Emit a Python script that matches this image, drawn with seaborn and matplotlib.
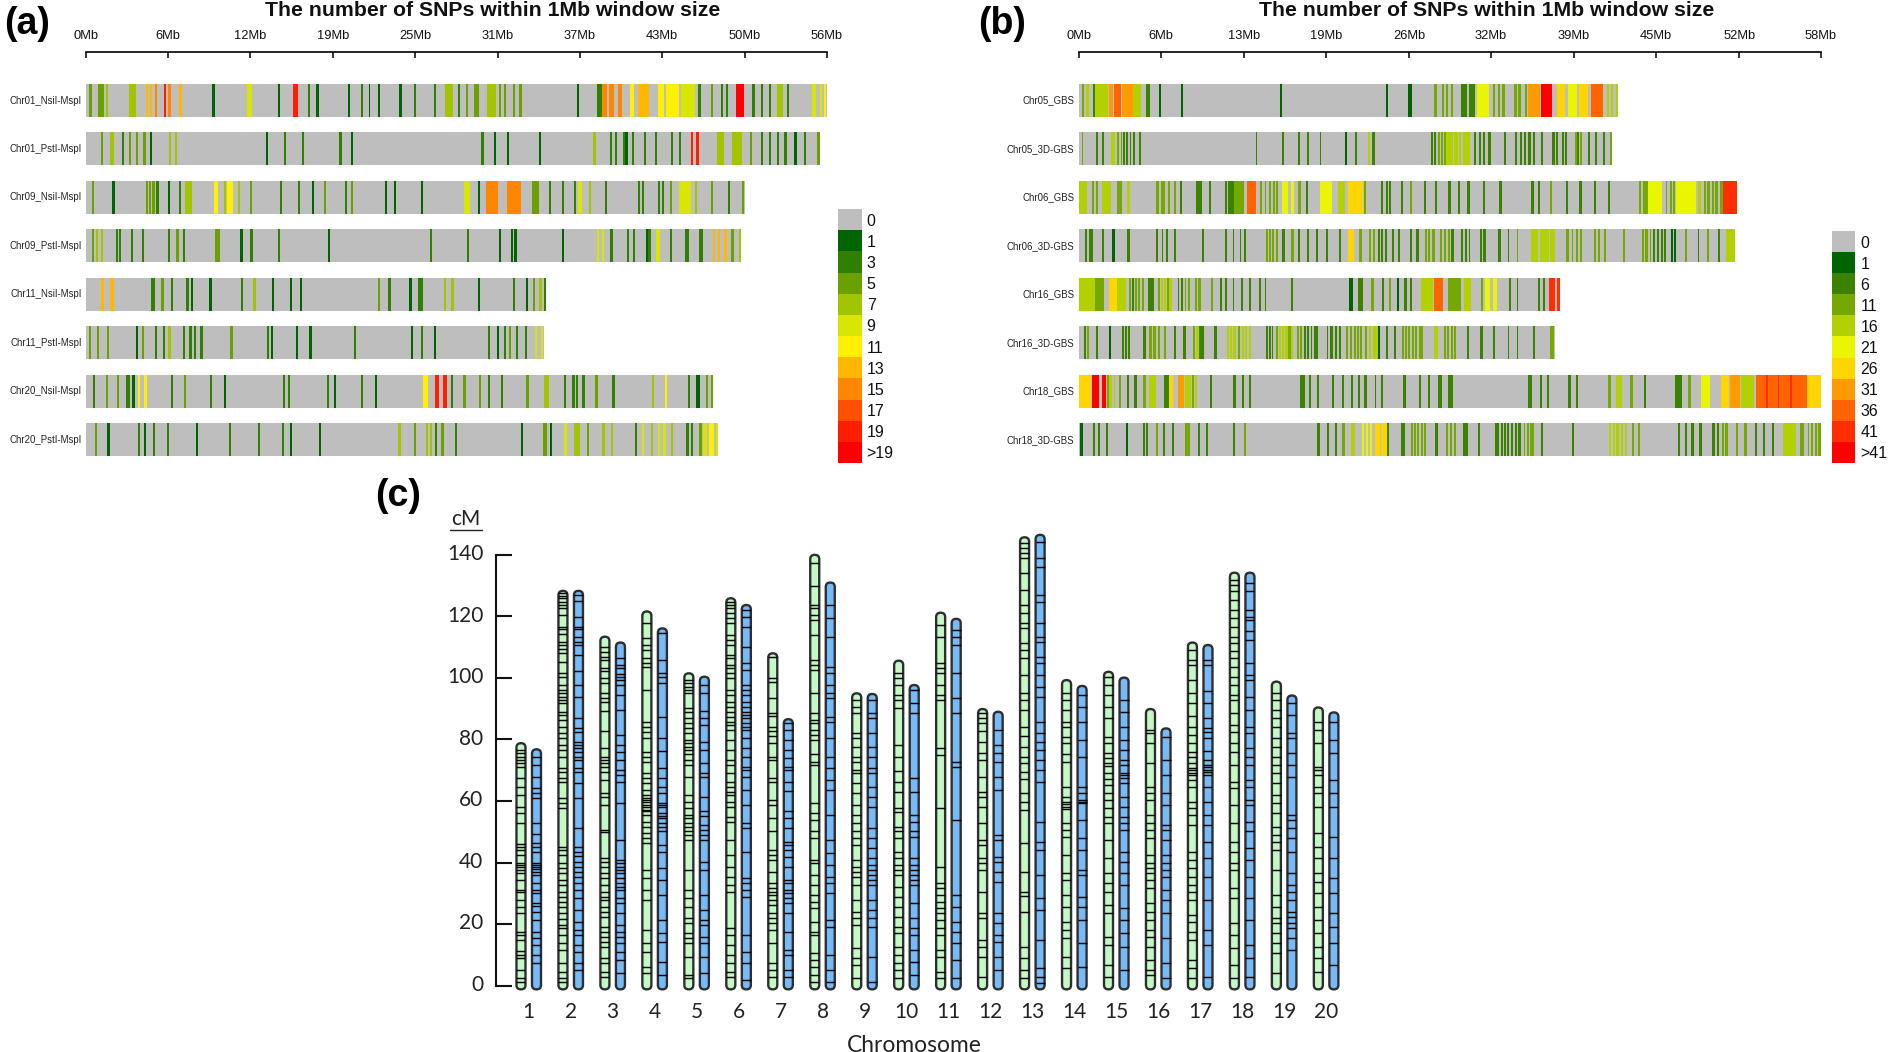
import numpy as np
import pandas as pd
import matplotlib
matplotlib.use("Agg")
import matplotlib.pyplot as plt
from matplotlib.colors import ListedColormap
from matplotlib.lines import Line2D
from matplotlib.patches import FancyBboxPatch
from matplotlib.transforms import ScaledTranslation
import seaborn as sns

W, H = 1889, 1052

# panel a: (Mb, level) for a thin stripe, (start Mb, end Mb, level) for a wide one
chr01_nsil = [(.3,3),(.95,3),(1.2,3),(1.5,4),(3.3,3.8,4),(4.5,4.7,7),(4.85,5,7),(5.2,8),(5.9,10),(6.2,6.45,8),(7.1,7),(9.6,1),(12.2,12.55,5),(14.5,1),(15.7,16.05,10),(16.8,2),(17.45,1),(19.8,1),(20.8,2),(21.35,1),(22.1,1),(23.7,1),(24.8,2),(26.3,2),(27.1,27.7,4),(28.1,2),(28.7,3),(29.4,29.7,3),(30.3,31,4),(31.2,3),(31.6,3),(32.3,3),(32.8,3),(37.1,1),(38.65,39,2),(39.05,39.4,8),(39.5,39.9,8),(40.2,40.5,8),(41.1,41.4,6),(41.8,42.55,7),(43.2,43.7,6),(43.85,44.8,6),(45,46,5),(46.3,2),(47.2,3),(48,2),(48.4,2),(49.1,49.7,11),(50.4,2),(51,2),(51.6,2),(52.2,52.7,4),(53,2),(54.9,55.15,5),(55.5,5),(55.75,6)]
chr01_pstl = [(1.15,3),(1.8,2.1,4),(2.7,2),(3.25,3),(3.8,3),(4.35,3),(4.85,1),(6.3,4),(6.7,4),(13.6,1),(15,2),(16.3,2),(19.2,2),(20,1),(29.9,2),(30.8,1),(31.8,1),(34.2,1),(38.4,4),(39.6,2),(40,2),(40.6,2),(40.8,1),(41.25,2),(42.2,2),(43,2),(44.2,2),(44.85,2),(45.7,10),(46.15,10),(47.7,48.2,4),(48.9,49.6,4),(50.2,3),(51,2),(51.6,2),(52.2,2),(52.8,2),(53.55,1),(54.3,2),(55.3,3)]
chr09_nsil = [(.45,3),(2.05,1),(4.55,3),(4.75,3),(5.05,3),(5.35,2),(6.2,1),(7,2),(7.5,8,4),(9.65,9.95,6),(10.4,4),(10.7,11.1,6),(11.5,4),(12.4,3),(14.7,2),(16,2),(17.1,1),(18,3),(19.6,2),(20,3),(22.6,1),(23.3,1),(25.3,1),(28.55,29,5),(29.65,1),(30.2,31.1,8),(31.8,32.9,8),(33.7,34.2,3),(35,2),(36,2),(36.9,2),(37.2,37.5,5),(38,4),(39.2,2),(41.7,2),(42,2),(43.2,2),(43.5,2),(44.15,3),(44.9,45.7,5),(46,4),(47.2,3),(48.5,2),(49.6,3)]
chr09_pstl = [(.45,3),(.75,4),(1.1,4),(2.3,2),(2.5,2),(3.4,2),(4.25,2),(6.2,2),(6.85,3),(7.35,2),(9.75,10.1,3),(11.7,1),(12.45,2),(14.5,2),(18.3,1),(26,2),(28.8,2),(31.2,1),(32.1,1),(32.4,1),(36,1),(38.6,5),(39,5),(39.65,2),(40.9,2),(41.35,2),(42.35,1),(42.55,2),(43.1,43.4,5),(44.15,2),(45.3,45.6,2),(46.4,46.6,2),(47.4,7),(47.8,7),(48.3,7),(48.8,3),(49.35,4)]
chr11_nsil = [(1.2,7),(1.8,2.1,7),(4.9,2),(5.1,2),(5.65,5.9,3),(6.4,2),(7.6,2),(7.9,1),(9.35,1),(11.75,2),(12.7,4),(14.05,1),(15.45,1),(16.2,1),(22.1,3),(22.9,2),(24.45,1),(25.1,25.45,2),(27.05,4),(27.65,4),(29.6,1),(32.3,2),(33.25,1),(33.75,3),(34.2,34.45,4),(34.6,2)]
chr11_pstl = [(.2,3),(.85,3),(1.6,3),(3.8,1),(4.2,4.4,3),(5.2,2),(5.85,2),(6.2,6.4,4),(7.35,2),(7.85,2),(8.2,2),(8.7,2),(10.95,3),(13.7,2),(14,1),(15.85,1),(16.9,1),(20.25,2),(24.55,1),(25.3,2),(26.3,1),(30.35,2),(31.05,1),(31.6,2),(32,3),(32.5,2),(33.2,2),(33.95,5),(34.35,34.55,5)]
chr20_nsil = [(.5,.7,2),(1.5,3),(2.35,3),(3.05,3.35,2),(3.55,1),(3.95,6),(4.4,4.6,6),(6.4,2),(7.4,3),(9.4,2),(10.45,1),(14.9,2),(15.3,15.45,2),(18.25,2),(18.75,1),(20.8,2),(21.85,1),(25.5,25.85,6),(26.4,26.65,10),(27,27.25,10),(27.55,2),(28.5,28.7,3),(29.7,3),(30.35,2),(31.4,2),(33.3,3),(34.6,35,4),(36.15,2),(36.8,2),(37.05,2),(37.55,2),(38.45,38.7,3),(39.8,2),(42.75,4),(43.75,6),(45.5,2),(46.15,46.4,1),(46.85,3),(47.2,3)]
chr20_pstl = [(.65,3),(1.65,1),(3.95,2),(4.4,1),(5.1,2),(6.15,2),(8.3,1),(10.8,2),(13,2),(14.8,2),(15.4,1),(17.6,1),(23.65,4),(24.8,3),(25.7,4),(26,4),(26.35,2),(26.9,3),(27.9,2),(32.9,1),(34.55,34.85,3),(35.1,1),(36.1,36.35,5),(36.85,37.3,4),(37.9,3),(39.05,4),(39.7,4),(41.5,2),(42.05,5),(42.7,4),(43.2,5),(43.65,43.8,5),(44.2,4),(45.4,2),(45.7,2),(46.4,3),(46.65,46.95,5),(47.1,47.45,6),(47.6,5)]

# panel b
chr05_gbs = [(.2,.4,3),(.6,4),(1.1,2),(1.25,2.3,4),(2.35,2.65,7),(2.75,3.3,8),(3.35,4.2,7),(4.25,4.85,4),(5.3,5.55,2),(6.25,1),(8,1),(15.75,1),(24,1),(25.7,1),(25.85,1),(27.75,28,3),(28.35,3),(28.7,3),(29.1,3),(29.85,30.3,2),(30.5,30.95,2),(31.1,32.05,5),(32.35,3),(32.75,3),(33.15,3),(34.05,3),(34.4,3),(34.85,3),(35.15,36,7),(36.1,36.55,10),(36.6,37,10),(37.35,38,6),(38.25,38.95,5),(39.1,39.8,6),(40,40.95,8),(41.25,4),(41.6,4),(42,4)]
chr05_3d = [(.2,3),(1.35,2),(1.8,2),(2.5,2.8,4),(3,3),(3.25,3),(3.45,2),(3.7,2),(3.95,2),(4.2,2),(4.7,2),(13.8,2),(15.85,2),(17.15,2),(17.8,2),(18.8,2),(20.8,1),(21.6,2),(22.6,4),(22.95,2),(27.5,2),(27.75,2),(28.1,3),(28.3,3),(28.5,3),(28.7,4),(28.9,4),(29.1,4),(29.3,4),(29.5,4),(29.7,4),(30,30.6,4),(30.85,2),(31.25,2),(31.55,2),(32.05,2),(33.2,2),(34.1,2),(34.5,2),(34.8,2),(35.15,2),(35.5,2),(36.15,2),(37.05,2),(37.3,2),(37.75,2),(38,2),(38.75,3),(38.95,2),(39.2,3),(39.8,2),(40.35,2),(40.95,2),(41.5,3)]
chr06_gbs = [(0,.65,4),(1,3),(1.35,3),(1.8,2.5,4),(3,3.35,3),(3.8,4),(6.1,3),(6.4,3),(6.6,3),(6.95,3),(7.4,3),(7.9,2),(9.2,9.6,2),(10.15,2),(11.45,2),(11.7,2),(11.95,2),(12.15,12.9,3),(13.1,13.85,8),(14.15,3),(14.5,3),(14.85,3),(15.2,3),(15.4,3),(15.95,16.3,5),(16.65,5),(17.2,3),(17.75,2),(18.85,19.8,5),(20.25,20.8,4),(21,22.2,6),(22.3,3),(23.65,2),(24,2),(24.25,2),(25.2,2),(25.9,3),(27,2),(27.85,2),(28.9,2),(29.6,2),(30.4,2),(31.6,2),(32.9,2),(35.4,2),(35.85,2),(36.85,3),(38.1,2),(39.15,2),(40.3,2),(41.35,2),(43.8,3),(44.15,3),(44.4,3),(44.5,45.55,5),(45.85,3),(46.2,3),(46.45,3),(46.7,48.2,5),(48.35,48.65,4),(48.85,3),(49.15,3),(49.5,3),(49.8,3),(50.1,3),(50.3,3),(50.4,51.4,9)]
chr06_3d = [(.5,2),(.8,2),(.95,2),(1.8,2),(2.65,1),(3.8,2),(6.05,2),(6.45,2),(6.8,2),(7.45,2),(9.65,2),(11.4,2),(12,2),(12.55,2),(12.9,2),(14.6,3),(14.85,3),(15.1,3),(15.4,3),(15.95,2),(16.65,3),(17.1,2),(17.8,2),(18.5,2),(19.3,2),(20.35,2),(21,21.5,6),(21.95,3),(22.7,3),(23,3),(23.4,2),(23.65,2),(23.95,2),(24.5,2),(24.95,2),(25.9,2),(26.4,2),(27.05,3),(27.3,3),(27.65,3),(28.25,3),(28.55,3),(28.85,3),(29.15,2),(29.9,2),(30.2,2),(30.45,2),(31.35,2),(31.65,2),(32.8,2),(33.5,2),(34.2,3),(35.4,35.9,4),(36.05,36.7,4),(36.85,37.2,4),(38.15,3),(38.5,3),(38.85,3),(39.2,3),(40.3,3),(40.6,3),(41.05,3),(42.55,3),(44,3),(44.3,3),(44.6,3),(44.9,2),(45.2,2),(45.5,2),(45.75,2),(46.3,1),(46.5,1),(47.4,3),(48.35,2),(49.1,3),(49.95,2),(50.65,51.25,4)]
chr16_gbs = [(0,1.25,4),(1.25,1.95,3),(2.4,2.95,6),(3,3.65,4),(3.9,3),(4.15,2),(4.4,3),(4.65,3),(4.9,3),(5.4,5.9,2),(6.15,3),(6.4,4),(6.65,4),(6.9,3),(7.1,4),(7.7,2),(8,2),(8.25,3),(8.5,3),(9.05,3),(9.35,3),(10.3,3),(11.05,2),(11.4,2),(12,2),(12.7,2),(13.3,2),(14.05,2),(14.5,2),(16.55,2),(21.15,21.45,1),(21.8,22.2,2),(22.9,3),(23.7,2),(24.25,3),(24.85,1),(25.45,2),(25.9,2),(26.7,27.65,4),(27.75,28.45,8),(28.9,29.85,3),(30.15,30.65,4),(31.45,3),(31.75,32.1,5),(32.35,32.65,5),(33.65,2),(34.2,2),(35.85,2),(36.3,2),(36.8,37.2,9),(37.35,37.6,9)]
chr16_3d = [(.4,2),(.65,3),(1.35,2),(2.35,1),(3.35,2),(3.6,2),(3.85,2),(5.05,2),(5.55,3),(5.85,3),(6.15,3),(6.65,3),(7.45,2),(8.2,2),(8.9,3),(9.2,4),(9.4,2),(9.6,9.8,2),(10.6,2),(11.55,4),(11.8,4),(12.1,4),(12.4,3),(12.75,4),(13,4),(13.3,4),(14.6,2),(14.85,2),(15.05,2),(15.4,3),(15.65,4),(15.9,4),(16.15,4),(16.4,3),(16.6,4),(17.05,3),(17.25,3),(17.6,2),(17.85,2),(18.1,2),(18.35,2),(18.55,2),(19.35,2),(19.7,2),(20,2),(20.3,2),(20.85,3),(21.2,3),(21.5,3),(21.75,3),(22,3),(22.35,3),(22.7,4),(23,4),(23.2,4),(23.35,1),(24,2),(24.6,2),(25.25,3),(25.5,3),(25.75,3),(26,3),(26.3,3),(26.55,3),(26.75,3),(27.75,28.1,4),(28.5,3),(28.8,3),(29.1,3),(29.3,3),(30.35,2),(31.4,2),(32.4,2),(33.5,2),(34.2,2),(35.5,2),(36.9,37.15,3)]
chr18_gbs = [(0,.95,6),(1.05,1.6,10),(1.8,2.1,10),(2.2,3),(2.4,4),(2.7,4),(3.1,3),(3.75,2),(4.35,2),(5.05,3),(5.5,6,4),(6.65,7,2),(7,7.35,6),(7.75,8.2,7),(8.35,4),(8.6,4),(8.85,3),(9.05,4),(10.25,2),(12.1,2),(12.75,2),(13.3,2),(17.3,17.65,2),(18,2),(18.6,2),(19.75,2),(20.55,2),(21.25,2),(21.8,2),(22.3,22.55,2),(23.1,2),(23.65,2),(25.4,2),(26.6,2),(27.25,2),(28.1,28.4,2),(28.9,29.25,2),(35.15,35.4,2),(36.05,2),(36.6,2),(38.3,2),(38.85,2),(41.4,3),(42,42.45,4),(43.15,3),(44.2,2),(46.6,47.15,2),(47.65,3),(48.65,49.35,5),(50.2,50.8,6),(50.9,51.7,7),(51.8,52.8,4),(52.95,53.7,8),(53.7,53.85,9),(53.85,54.6,8),(54.6,54.75,9),(54.75,55.6,8),(55.6,55.75,9),(55.75,56.9,8),(56.9,58,6)]
chr18_3d = [(.15,1),(1.1,2),(1.5,2),(2.15,2),(3.7,1),(5,2),(5.25,2),(6.05,3),(6.6,2),(7.25,2),(8.3,8.65,3),(9.3,2),(9.9,2),(12.05,2),(12.9,3),(18.6,18.8,2),(19.4,2),(20,2),(20.55,20.8,3),(21.25,21.6,4),(22.15,5),(22.45,5),(22.75,5),(23.15,23.5,6),(23.65,24.05,6),(24.1,2),(25.2,25.45,2),(25.95,3),(26.2,3),(26.45,3),(26.75,3),(27,3),(27.85,28.1,2),(28.7,3),(29,3),(29.3,3),(30.05,30.4,2),(31.2,2),(32.5,2),(32.7,2),(33,2),(33.25,2),(33.45,2),(33.8,2),(34.1,2),(34.4,2),(34.75,3),(35.05,3),(35.3,3),(35.45,3),(36.15,2),(38.5,38.7,2),(41.45,4),(41.75,4),(42.05,4),(42.35,4),(42.7,4),(43.25,3),(43.7,3),(46.85,2),(47.4,2),(47.9,2),(48.55,2),(49.55,2),(49.9,2),(50.25,3),(50.55,3),(51.35,3),(52.05,3),(52.85,2),(53.45,2),(54.15,2),(55,56.05,4),(56.35,56.65,3),(56.95,3),(57.2,3),(57.5,3),(57.75,3),(57.95,3)]

names_a = ["Chr01_NsiI-MspI", "Chr01_PstI-MspI", "Chr09_NsiI-MspI", "Chr09_PstI-MspI", "Chr11_NsiI-MspI", "Chr11_PstI-MspI", "Chr20_NsiI-MspI", "Chr20_PstI-MspI"]
lengths_a = [56.0, 55.5, 49.8, 49.5, 34.8, 34.6, 47.4, 47.7]
stripes_a = [chr01_nsil, chr01_pstl, chr09_nsil, chr09_pstl, chr11_nsil, chr11_pstl, chr20_nsil, chr20_pstl]
ticks_a = [0, 6.2, 12.4, 18.7, 24.9, 31.1, 37.3, 43.5, 49.8, 56.0]
ticklabels_a = ["0Mb", "6Mb", "12Mb", "19Mb", "25Mb", "31Mb", "37Mb", "43Mb", "50Mb", "56Mb"]
legend_a = ["0", "1", "3", "5", "7", "9", "11", "13", "15", "17", "19", ">19"]
colors_a = ["#BEBEBE", "#006400", "#2F7F00", "#6AA100", "#A2C500", "#D8E600", "#FFF000", "#FFB700", "#FF8700", "#FF5000", "#FF1E00", "#FF0000"]

names_b = ["Chr05_GBS", "Chr05_3D-GBS", "Chr06_GBS", "Chr06_3D-GBS", "Chr16_GBS", "Chr16_3D-GBS", "Chr18_GBS", "Chr18_3D-GBS"]
lengths_b = [42.1, 41.6, 51.4, 51.3, 37.6, 37.2, 58.0, 58.0]
stripes_b = [chr05_gbs, chr05_3d, chr06_gbs, chr06_3d, chr16_gbs, chr16_3d, chr18_gbs, chr18_3d]
ticks_b = [0, 6.4, 12.9, 19.3, 25.8, 32.2, 38.7, 45.1, 51.6, 58.0]
ticklabels_b = ["0Mb", "6Mb", "13Mb", "19Mb", "26Mb", "32Mb", "39Mb", "45Mb", "52Mb", "58Mb"]
legend_b = ["0", "1", "6", "11", "16", "21", "26", "31", "36", "41", ">41"]
colors_b = ["#BEBEBE", "#006400", "#3A8200", "#75A800", "#B3D000", "#EAF500", "#FFD500", "#FF9A00", "#FF6400", "#FF2D00", "#FF0000"]

# panel c: chromosome lengths in cM
chromosomes = [str(i) for i in range(1, 21)]
length_green = [78.8, 128.3, 113.4, 121.6, 101.5, 125.9, 108, 140, 95, 105.6, 121.2, 89.9, 145.7, 99.3, 102, 89.9, 111.5, 134.2, 98.8, 90.4]
length_blue = [76.8, 128.3, 111.5, 116.1, 100.4, 123.7, 86.6, 131, 94.8, 97.7, 119.2, 89, 146.5, 97.4, 100.1, 83.6, 110.7, 134.2, 94.3, 88.8]

# marker positions in cM
g01 = [76.6,75.7,74.4,73.3,72.3,71,67.4,64.7,62,58.2,56,52.8,46,45.2,44.1,42.5,39.8,39.2,38.5,37.6,36.5,34.3,31.1,30.6,27.8,25.7,23.5,17.6,16.5,14.8,11.4,10,8.9,5.1,2.4,1.3]
b01 = [74.4,71.7,67.9,64.2,62.5,60.9,52.8,49.3,46.3,45.2,43.6,40,39.2,38.7,37.8,37.1,36,33.3,31.1,30,26.8,25.9,24,21.3,17.6,15.4,13.2,10,7.3]
g02 = [127.5,126.7,125.9,124.8,123.7,122.6,120.5,116.6,115.8,114.2,111.8,110.7,109.3,108,105.3,101.5,100.4,97.7,96.1,95,93.9,92.8,91.7,89,87.9,86.3,84.1,82,80.4,78.2,76.6,74.4,70.6,69.5,67.4,66.3,60.9,59.3,57.6,45.2,44.1,42.5,39.8,38.2,36.5,34.3,32.7,30.5,28.9,27.2,25.6,23.5,21.8,19.7,18.6,16.5,13.8,11.6,7.3,4.6,2.4,1.3]
b02 = [127,125.1,119.9,116.7,115.8,113.4,111.8,110.7,107.5,102.1,97.7,93.9,86.9,83.6,82.5,79.3,78.2,77.1,76,74.4,73.3,70.6,69.5,65.7,60.9,51.1,45.2,43.6,42,40.3,38.7,37.1,35.4,33.3,31.1,28.4,24.6,20.8,18.1,16.5,13.2,11.1,7.3,5.1]
g03 = [110.2,108.5,106.9,105.8,103.1,102.1,99.9,98.3,95,93.4,92.3,89.1,82.6,77.1,74.4,73.3,72.2,71.1,69.5,66.8,62.5,61.4,58.7,50.6,50,41.4,40.3,38.7,36.5,34.9,32.7,30.5,28.9,27.8,25.6,24,22.4,19.1,17.5,15.9,14.3,12.6,8.9,7.3,4.6,2.9]
b03 = [106.4,104.2,103.1,101.3,100.4,99.3,97.7,94.5,89.6,81.5,78.2,76,73.3,70.1,68.5,66.3,59.3,47.3,40.8,39.8,38.7,37.6,36.5,34.9,33.3,32.2,31.1,28.4,26.8,23.5,19.7,17.5,15.9,13.8,11.1,8.3,4]
g04 = [117.8,112.9,110.7,109.1,106.4,104.8,103.7,96.1,85.8,84.2,82.5,80.4,76,74.4,72.8,69,67.4,65.7,63.6,62,61.1,60.3,59.7,58.7,58.2,57.1,56.6,55.5,53.3,51.7,49.5,47.9,46.3,37.6,34.9,31.1,27.8,18.1,13.8,11.1,6.2,4]
b04 = [114.5,105.9,101.5,100.4,98.3,87.4,80.4,76.1,70.6,67.4,64.7,62.5,59.3,58.8,58.2,56,55.2,54.4,52.8,51.7,50.1,45.7,43.6,38.1,34.3,29.5,21.3,17,14.3,7.8,3.5]
g05 = [99.4,98.3,97.2,96.1,95,90.1,89,86.9,85.3,83.6,82,79.8,78.7,77.6,76.6,75.4,73.3,71.7,67.9,61.9,59.7,57.6,55.5,54.4,52.8,51.7,50.1,49,47.3,37.6,31.1,28.4,25.7,21.9,20.3,17,15.4,13.8,9.4,3.5,2.4]
b05 = [97.7,95,89.1,86.9,84.7,79.3,76.6,72.3,69,67.9,61.4,56.6,55,52.2,50.6,49,47.3,40.3,37.6,29.5,24.6,21.3,19.7,15.9,13.8,9.4,4]
g06 = [124.8,123.7,122.6,121,119.4,117.7,114,112.4,110.7,107.5,106.4,104.2,103.1,101.5,99.9,96.1,94.5,92.3,90.7,89,87.4,85.8,84.7,83,79.8,76.6,73.3,71.7,69,66.3,64.7,63,61.9,59.8,58.2,54.9,53.3,47.3,42.5,38.7,35.4,32.7,30.5,18.6,16.5,13.2,10,7.3,4.6,2.9]
b06 = [122.1,119.9,116.7,110.2,104.8,102.6,97.7,96.1,94.5,92.3,90.7,89,87.9,86.9,85.3,84.1,83,80.4,77.1,74.4,71.2,70.1,67.9,63.6,58.7,52.8,51.1,43.6,34.9,33.3,31.1,28.9,16.5,11.1,7.3,1.8]
g07 = [106.7,99.9,98.8,93.4,88.6,87.5,84.2,82.6,81,78.8,74.4,73.3,67.4,66.3,60.3,58.7,54.4,50.1,44.1,42.5,40.8,37,33.3,31.7,30.6,29.5,27.9,26.3,23.5,21.9,20.3,18.1,13.8,7.3,5.1,2.9]
b07 = [85.3,83.1,79.8,76.6,73.9,71.2,70.1,66.3,63.1,56.6,54.4,51.1,46.8,45.7,44.1,41.9,38.7,34.3,33.3,31.1,30,28.4,26.8,23.5,17.6,11.6,10,5.1,2.9]
g08 = [137.3,129.9,123.7,122.6,120.5,118.8,114,105.8,104.2,102.6,95,88.5,86.3,85.3,83.1,81.5,79.8,75.4,72.8,71.7,59.3,56,53.9,50.1,47.9,40.8,39.8,36,32.7,29.5,27.3,25.1,20.8,17.5,16.5,10.5,8.3,6.2,3.5,1.3]
b08 = [123.7,119.4,113.4,103.7,101.5,97.7,95,93.4,87.4,85.8,80.4,74.4,70.6,66.8,63.6,55.5,47.3,43,39.2,35.4,33.3,30,21.3,19.2,10,5.1,1.3]
g09 = [92.8,90.7,88.5,82,80.4,77.6,74.4,72.8,70.1,69,65.7,62.5,58.7,55.5,52.8,50.1,47.9,45.7,40.8,38.7,37.1,35.4,32.7,27.8,24,21.9,19.7,12.1,8.9,6.7,2.4]
b09 = [92.8,88.5,86.9,82,77.6,74.4,70.6,69,64.7,61.4,58.2,51.1,47.9,44.6,41.4,39.2,37.6,36,34.3,32.7,27.8,24.6,21.9,19.2,9.4,1.3]
g10 = [101.5,99.9,97.7,94.5,92.8,90.1,78.2,74.4,69.9,66.3,63,57.6,56.5,51.7,50.1,47.9,43.6,41.4,39.2,37.6,36,32.2,28.9,25.7,22.4,19.2,17,12.6,10,7.3,5.1,2.4]
b10 = [96.1,91.8,88.5,67.4,63,55.5,53.3,50.1,48.4,41.4,39.2,37.6,36,34.3,32.7,26.8,21.9,18.6,16.5,11.6,7.8,3.5]
g11 = [117.2,113.4,105,103.2,101.5,97.7,94.5,92.8,77.1,74.9,57.6,38.7,33.3,31.7,29.5,27.3,25.1,23.5,21.3,18.6,16.5,11.6,9.4,4.6,2.4]
b11 = [115.6,113.4,110.7,101.5,93.4,88.5,72.8,71.2,53.8,29.5,25.7,20.8,17.5,13.8,8.3,2.4]
g12 = [88.5,86.9,85.3,82.6,79.3,75.5,73.3,67.9,63,61.4,58.2,52.8,47.3,45.7,41.4,39.8,37.6,30.6,23.5,21.9,14.8,12.7,9.4,2.9]
b12 = [83.1,78.2,75.5,72.8,67.9,63.6,49,47.3,41.9,40.3,37.1,33.8,23.5,20.3,16.5,14.3,9.4,5.1]
g13 = [143.8,142.2,140.5,138.9,134,128.6,123.7,121,117.8,116.1,111.3,109.1,106.4,101,95,92.8,89.6,84.2,81,77.6,74.4,72.2,69.5,67.3,62.5,59.8,57.1,46.3,37.1,30.6,29,24,12.6,8.9,5.1,2.4]
b13 = [144.3,138.9,136.2,127,124.8,118,113.4,111.8,106.9,104.8,101,97.2,93.9,85.8,82,79.3,76.6,73.3,70.1,66.3,53.3,46.8,44.1,36,28.4,24.6,14.8,5.6,2.9,.8]
g14 = [95,92.8,89.6,85.8,84.2,80.9,78.7,75.4,72.8,64.7,61.4,59.8,59,58.2,57.4,52.8,50.6,48.4,42.5,36.5,34.3,29.5,25.7,20.8,18.1,15.4,9.4,5.6]
b14 = [94.5,90.7,85.8,79.8,74.4,64.7,62.5,60.3,59.8,59.3,53.9,47.9,44.1,37.6,36,28.9,25.7,21.4,13.8,6.2]
g15 = [100.4,97.7,94.5,90.7,86.9,80.9,78.7,75.5,73.9,72.2,71.5,69,67.3,65.1,62.5,60.3,57.6,54.9,52.8,47.3,41.4,36.5,33.3,30.6,26.2,23.5,15.9,13.2,6.7,2.9]
b15 = [92.8,89,84.2,79.8,76.6,73.3,71.7,69,68.4,67.4,65.7,61.4,58.2,54.9,52.8,50.6,43.6,40.3,36.5,32.7,25.1,21.3,17,12.7,5.1]
g16 = [83.1,82,78.8,72.3,64.7,62.5,60.3,55.5,52.8,50.6,47.9,42.5,39.8,38.2,36.5,34.3,31.6,26.8,24,21.3,18.1,15.9,12.7,8.3,5.1,3.5]
b16 = [80.7,73.3,68.5,62.5,58.7,52.2,50.6,47.3,42.5,39.8,37.6,35.4,31.1,27.8,23.5,15.4,7.3,2.4]
g17 = [109.1,105.9,104.2,99.4,95,91.8,87.5,84.2,81.5,78.8,76,74.4,72.2,70.6,70,69.2,68.4,66.8,64.7,59.8,57.6,55.5,52.2,43.6,40.8,38.2,35.4,32.7,30.5,27.8,22.9,20.8,17.5,14.8,8.3,5.6,2.4]
b17 = [105.9,104.2,95.6,91.8,86.9,83.6,82.5,80.4,76.1,73.3,71.7,70.9,70.1,69.3,68.5,64.7,59.8,55.5,52.2,46.8,41.4,35.4,27.8,18.1,13.2,2.9]
g18 = [131.9,130.2,128.1,125.4,122.1,119.4,116.7,113.4,111.3,108.6,106.4,103.7,100.4,97.7,94.5,92.8,88.5,84.7,82.5,78.8,76,71.7,66.3,64.1,58.7,52.8,46.8,43.6,39.8,37.6,31.6,28.4,20.3,16.5,12.1,6.7,2.4]
b18 = [130.8,128.1,122.1,119.9,118.9,115.1,112.4,104.8,101,99.4,93.9,89.6,84.2,82,77.1,74.4,71.7,66.8,64.7,60.3,58.7,53.3,50.1,44.6,40.8,35.4,28.4,21.3,13.2,8.9,2.9]
g19 = [95,92.8,89.6,86.9,84.2,80.4,77.7,74.4,71.7,69,65.8,62,59.3,56,51.7,49,46.8,44.1,37.6,29.5,25.7,21.9,20.3,17,13.8,10.5,4]
b19 = [91.8,88,82,80.4,75.5,71.7,67.9,55.5,53.8,51.1,47.9,43.6,36.5,32.7,30.6,27.8,24,22.4,20.3,18.6,15.4,11.6]
g20 = [85.8,83.1,78.8,71.2,70.1,68.5,64.7,62.5,58.2,49.5,45.2,41.4,36.5,33.8,30,25.7,21.3,17,12.7,8.9,4.6]
b20 = [85.8,79.8,75.5,66.8,62.5,58.2,48.4,41.4,34.9,30,23.5,19.2,13.8,6.7]
markers_green = [g01,g02,g03,g04,g05,g06,g07,g08,g09,g10,g11,g12,g13,g14,g15,g16,g17,g18,g19,g20]
markers_blue = [b01,b02,b03,b04,b05,b06,b07,b08,b09,b10,b11,b12,b13,b14,b15,b16,b17,b18,b19,b20]

BIN = 0.05  # Mb per heatmap column


def px_axes(x0, y0, x1, y1):
    return fig.add_axes([x0 / W, 1 - y1 / H, (x1 - x0) / W, (y1 - y0) / H])


def px_text(x, y, s, **kw):
    fig.text(x / W, 1 - y / H, s, **kw)


def track_matrix(stripes, length, span):
    row = np.full(int(round(span / BIN)), np.nan)
    row[: int(round(length / BIN))] = 0
    for s in stripes:
        start, end, level = s if len(s) == 3 else (s[0], s[0] + 0.11, s[1])
        row[int(start / BIN): int(np.ceil(end / BIN))] = level
    return row.reshape(1, -1)


def density_panel(names, lengths, stripes, ticks, ticklabels, colors, legend, x0, x1, leg_x, leg_top):
    span = ticks[-1]
    cmap = ListedColormap(colors)
    ruler = px_axes(x0, 52, x1, 60)
    ruler.set_xlim(0, span)
    ruler.set_yticks([])
    sns.despine(ax=ruler, top=False, left=True, right=True, bottom=True)
    ruler.spines["top"].set_linewidth(1.2)
    ruler.spines["top"].set_color("black")
    ruler.xaxis.tick_top()
    ruler.patch.set_alpha(0)
    ruler.set_xticks(ticks)
    ruler.set_xticklabels(ticklabels, fontsize=9.3)
    ruler.tick_params(axis="x", direction="in", length=4, width=1.1, pad=7.5, color="black", labelcolor="#111111")
    for i, name in enumerate(names):
        top = 84 + 48.45 * i
        ax = px_axes(x0, top, x1, top + 33)
        sns.heatmap(track_matrix(stripes[i], lengths[i], span), ax=ax, cmap=cmap, vmin=-0.5, vmax=len(colors) - 0.5,
                    cbar=False, xticklabels=False, yticklabels=[name])
        ax.tick_params(axis="y", left=False, length=0, pad=3.2, labelsize=6.9, labelrotation=0, labelcolor="#222222")
    leg = px_axes(leg_x, leg_top, leg_x + 23.4, 463)
    sns.heatmap(np.arange(len(colors)).reshape(-1, 1), ax=leg, cmap=cmap, vmin=-0.5, vmax=len(colors) - 0.5,
                cbar=False, xticklabels=False, yticklabels=legend)
    leg.yaxis.tick_right()
    leg.tick_params(axis="y", right=False, length=0, pad=3.6, labelsize=11.5, labelrotation=0, labelcolor="#111111")


sns.set_theme(style="white")
plt.rcParams["font.family"] = ["Liberation Sans", "DejaVu Sans"]
fig = plt.figure(figsize=(W / 100, H / 100), dpi=100, facecolor="white")

density_panel(names_a, lengths_a, stripes_a, ticks_a, ticklabels_a, colors_a, legend_a, 86, 827, 838.3, 209)
density_panel(names_b, lengths_b, stripes_b, ticks_b, ticklabels_b, colors_b, legend_b, 1079, 1821, 1832, 231)

title_kw = dict(fontsize=15.3, fontweight="bold", ha="center", va="center", color="#111111")
px_text(493, 10.5, "The number of SNPs within 1Mb window size", **title_kw)
px_text(1487, 10.5, "The number of SNPs within 1Mb window size", **title_kw)
tag_kw = dict(fontsize=27, fontweight="bold", va="center", ha="left", color="black")
px_text(4, 24, "(a)", **tag_kw)
px_text(978, 24, "(b)", **tag_kw)
px_text(375, 496, "(c)", **tag_kw)

# panel c
df = pd.DataFrame({
    "chromosome": chromosomes * 2,
    "cM": length_green + length_blue,
    "map": ["green"] * 20 + ["blue"] * 20,
})
ax = px_axes(496, 528.7, 1345, 994.9)
sns.barplot(data=df, x="chromosome", y="cM", hue="map", palette=["#C4F8C4", "#76BAF8"], saturation=1, width=0.74,
            gap=0.42, legend=False, ax=ax)
ax.set_xlim(-0.78, 19.45)
ax.set_ylim(-3, 148.5)

for container, markers in zip(ax.containers, [markers_green, markers_blue]):
    for bar, marks in zip(container, markers):
        x, w, top = bar.get_x(), bar.get_width(), bar.get_height()
        bar.set_visible(False)
        rounded = FancyBboxPatch((x, -1.2), w, top + 1.2, boxstyle=f"round,pad=0,rounding_size={w / 2}",
                                 mutation_aspect=1.4 / (w / 2), facecolor=bar.get_facecolor(),
                                 edgecolor="#2E2E2E", linewidth=1.7, zorder=3)
        ax.add_patch(rounded)
        ax.hlines(marks, x, x + w, color="#050505", linewidth=1.05, zorder=4)

sns.despine(ax=ax, bottom=True)
ax.spines["left"].set_bounds(0, 140)
ax.spines["left"].set_linewidth(1.5)
ax.spines["left"].set_color("#111111")
ax.set_yticks(range(0, 141, 20))
ax.set_xlabel("")
ax.set_ylabel("")
ax.patch.set_alpha(0)
ax.tick_params(axis="y", direction="in", left=True, length=11.5, width=1.5, color="#111111", pad=9)
ax.tick_params(axis="x", bottom=False, pad=-0.6)
up = ScaledTranslation(0, 2 / 72, fig.dpi_scale_trans)
for label in ax.get_yticklabels():
    label.set_transform(label.get_transform() + up)
for label in ax.get_xticklabels() + ax.get_yticklabels():
    label.set_fontfamily("Lato")
    label.set_fontsize(15)
    label.set_color("#222222")
px_text(914, 1045, "Chromosome", fontfamily="Lato", fontsize=16.4, ha="center", va="center", color="#222222")
px_text(466, 519, "cM", fontfamily="Lato", fontsize=15, ha="center", va="center", color="#222222")
fig.add_artist(Line2D([450 / W, 482 / W], [1 - 530 / H, 1 - 530 / H], color="#222222", linewidth=1))

fig.savefig("out.png", dpi=100)
